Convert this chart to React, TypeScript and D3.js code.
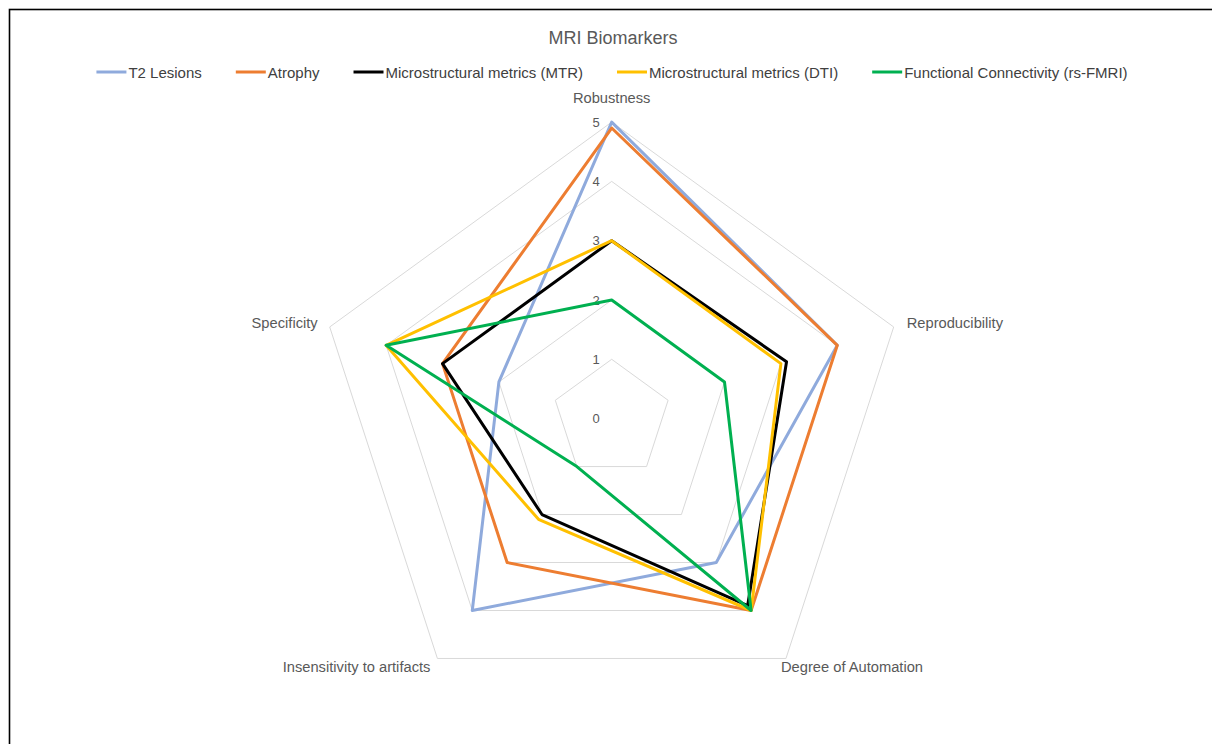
import React, { useLayoutEffect, useRef, useState } from "react";
import * as d3 from "d3";

const axes = ["Robustness", "Reproducibility", "Degree of Automation", "Insensitivity to artifacts", "Specificity"];
const ticks = [0, 1, 2, 3, 4, 5];
const seriesNames = ["T2 Lesions", "Atrophy", "Microstructural metrics (MTR)", "Microstructural metrics (DTI)", "Functional Connectivity (rs-FMRI)"];
const seriesColors = ["#8FAADC", "#ED7D31", "#000000", "#FFC000", "#00B050"];
const t2Lesions = [5, 4, 3, 4, 2];
const atrophy = [4.9, 4, 4, 3, 3];
const mtr = [3, 3.1, 3.9, 2, 3];
const dti = [3, 3, 4, 2.1, 4];
const fc = [2, 2, 4, 1, 4];
const seriesValues = [t2Lesions, atrophy, mtr, dti, fc];

const W = 1212, H = 744;
const cx = 611.7, cy = 418.6, R = 296.5;
const font = "'Liberation Sans', Arial, sans-serif";
const textColor = "#595959";
const legendFont = 15;

export default function App() {
  const r = d3.scaleLinear().domain([0, 5]).range([0, R]);
  const ang = (i: number) => (-90 + 72 * i) * Math.PI / 180;
  const pt = (i: number, v: number): [number, number] => [cx + r(v) * Math.cos(ang(i)), cy + r(v) * Math.sin(ang(i))];
  const line = d3.line<[number, number]>().curve(d3.curveLinearClosed);

  const textRefs = useRef<(SVGTextElement | null)[]>([]);
  const [widths, setWidths] = useState<number[]>(seriesNames.map((n) => n.length * 7.3));
  useLayoutEffect(() => {
    const w = textRefs.current.map((t, k) => (t ? t.getComputedTextLength() : widths[k]));
    if (w.some((v, k) => Math.abs(v - widths[k]) > 0.5)) setWidths(w);
  });

  const lineW = 30, textGap = 2, itemGap = 34;
  const itemW = widths.map((w) => lineW + textGap + w);
  const total = d3.sum(itemW) + itemGap * (itemW.length - 1);
  let acc = 612 - total / 2;
  const legendX = itemW.map((w) => { const x = acc; acc += w + itemGap; return x; });

  const labelOffsets: { dx: number; dy: number; anchor: string }[] = [
    { dx: 0, dy: -24, anchor: "middle" },
    { dx: 13, dy: -4, anchor: "start" },
    { dx: -5, dy: 9, anchor: "start" },
    { dx: -7, dy: 9, anchor: "end" },
    { dx: -12, dy: -4, anchor: "end" },
  ];

  return (
    <svg width={W} height={H} style={{ position: "absolute", left: 0, top: 0, background: "#fff" }}>
      <rect x={0} y={0} width={W} height={H} fill="#fff" />
      <rect x={9.5} y={9.5} width={W + 20} height={H + 20} fill="none" stroke="#000" strokeWidth={1.6} />
      <text x={613} y={38} textAnchor="middle" dominantBaseline="central" fontFamily={font} fontSize={18} fill={textColor}>MRI Biomarkers</text>
      {seriesNames.map((n, k) => (
        <g key={n} transform={`translate(${legendX[k]},72)`}>
          <line x1={0} x2={lineW} y1={0} y2={0} stroke={seriesColors[k]} strokeWidth={3} />
          <text ref={(el) => { textRefs.current[k] = el; }} x={lineW + textGap} y={0} dominantBaseline="central" fontFamily={font} fontSize={legendFont} fill="#404040">{n}</text>
        </g>
      ))}
      {ticks.slice(1).map((t) => (
        <polygon key={t} points={axes.map((_, i) => pt(i, t).join(",")).join(" ")} fill="none" stroke="#D9D9D9" strokeWidth={1} />
      ))}
      {ticks.map((t) => (
        <text key={t} x={cx - 12} y={cy - r(t)} textAnchor="end" dominantBaseline="central" fontFamily={font} fontSize={13} fill={textColor}>{t}</text>
      ))}
      {axes.map((a, i) => {
        const [x, y] = pt(i, 5);
        const o = labelOffsets[i];
        return (
          <text key={a} x={x + o.dx} y={y + o.dy} textAnchor={o.anchor as any} dominantBaseline="central" fontFamily={font} fontSize={14.7} fill={textColor}>{a}</text>
        );
      })}
      {seriesValues.map((vals, k) => (
        <path key={k} d={line(vals.map((v, i) => pt(i, v))) || ""} fill="none" stroke={seriesColors[k]} strokeWidth={3} strokeLinejoin="round" />
      ))}
    </svg>
  );
}
